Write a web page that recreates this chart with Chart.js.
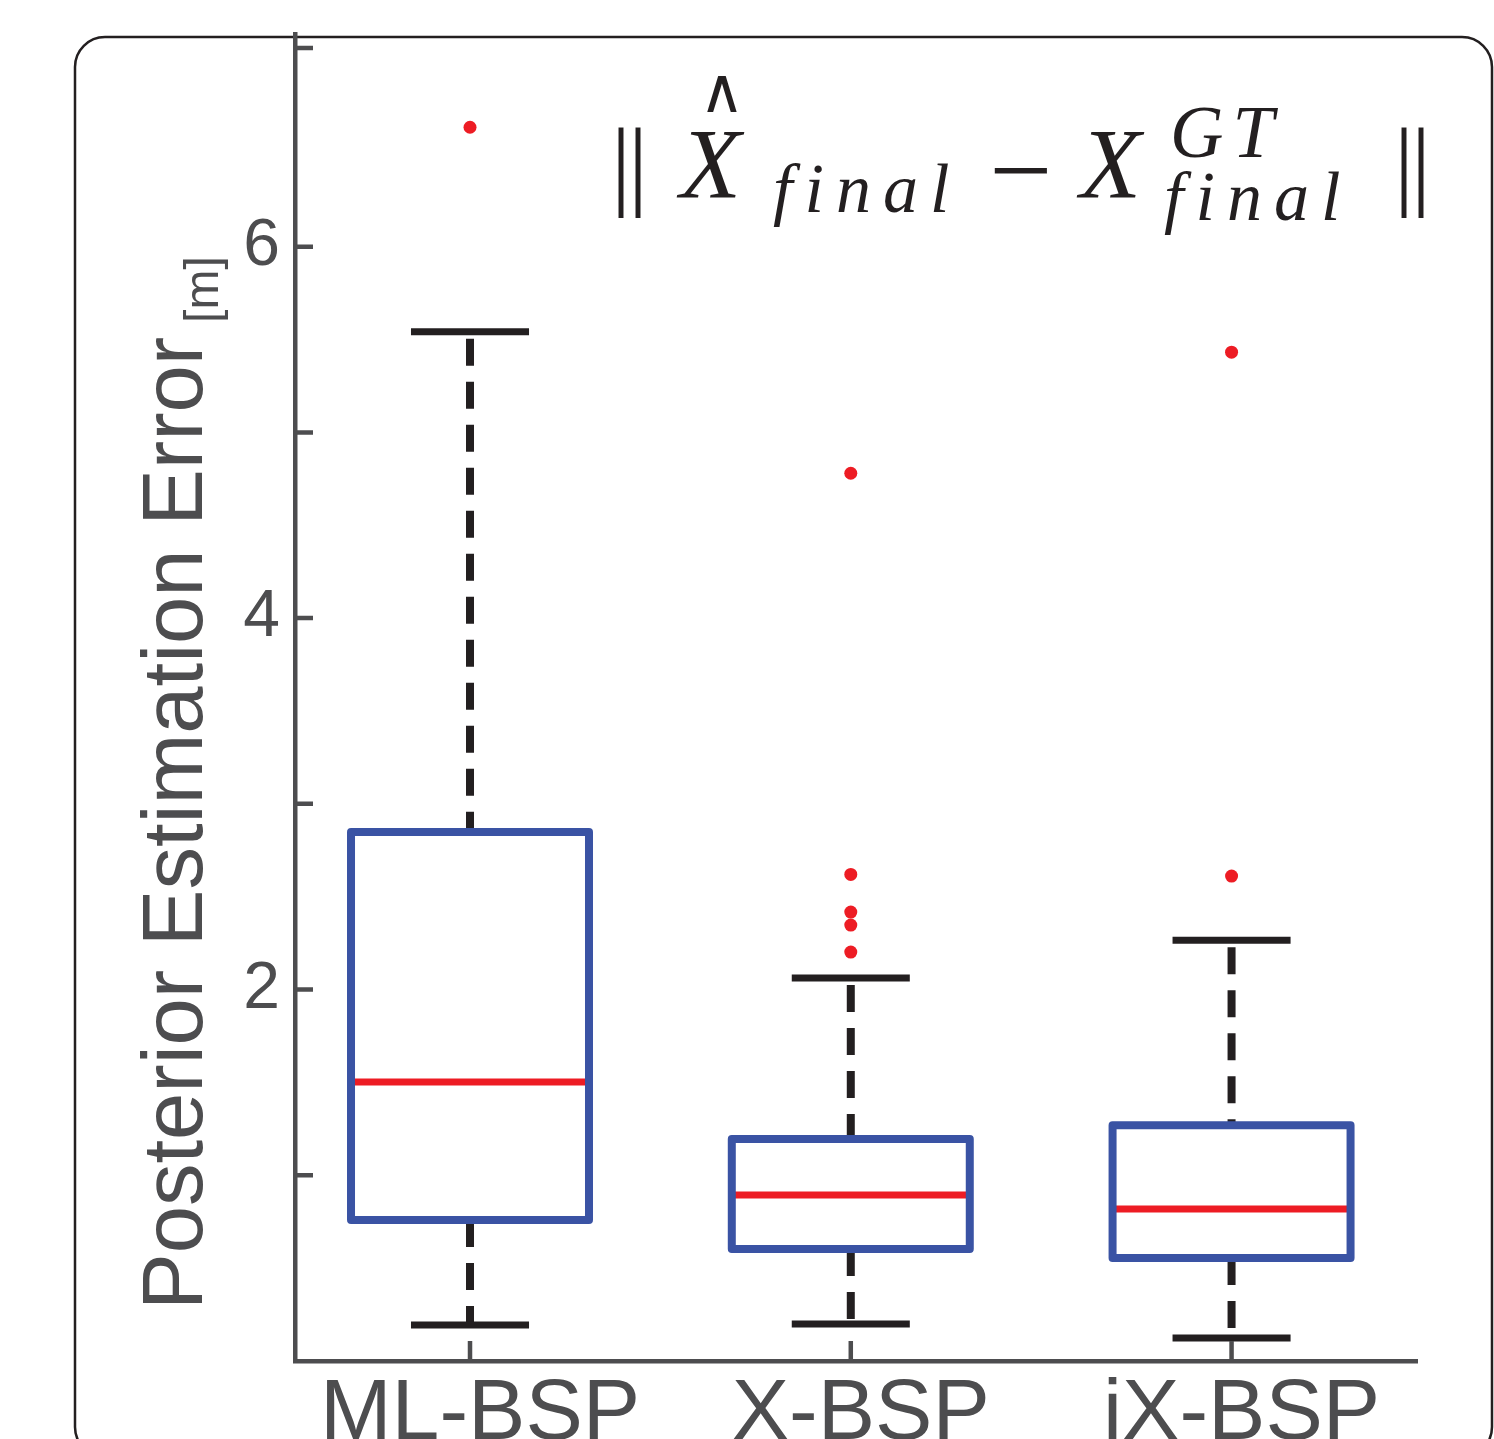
<!DOCTYPE html>
<html>
<head>
<meta charset="utf-8">
<script src="https://cdn.jsdelivr.net/npm/chart.js@4.4.1/dist/chart.umd.min.js"></script>
<style>
    html, body { margin: 0; padding: 0; background: #fff; }
    canvas { display: block; }
</style>
</head>
<body>
<canvas id="canvas" width="1494" height="1439"></canvas>
<script>
// values, in metres
const categories = ["ML-BSP", "X-BSP", "iX-BSP"];
const whiskerLow = [0.194, 0.199, 0.124];
const quartile1 = [0.759, 0.603, 0.555];
const medians = [1.502, 0.894, 0.818];
const quartile3 = [2.848, 1.195, 1.270];
const whiskerHigh = [5.542, 2.062, 2.266];
const outliers = [
    [6.643],
    [4.78, 2.62, 2.417, 2.347, 2.202],
    [5.432, 2.611]
];
const yTicks = [1, 2, 3, 4, 5, 6, 7.07];
const yLabelledTicks = [2, 4, 6];

const BLUE = "#3a53a4";
const RED = "#ed1c24";
const BLACK = "#231f20";
const GRAY = "#4d4d4f";
const SANS = "'Liberation Sans', Arial, Helvetica, sans-serif";
const SERIF = "'Liberation Serif', 'Times New Roman', serif";
const BOX_HALF = 0.3125;
const CAP_HALF = 0.155;

function l(element) {
    return document.getElementById(element);
}

function line(points, color, width, extra) {
    return Object.assign({
        data: points,
        showLine: true,
        borderColor: color,
        borderWidth: width,
        pointRadius: 0,
        fill: false,
        tension: 0,
        borderCapStyle: "butt"
    }, extra);
}

function buildDatasets() {
    let sets = [];
    categories.forEach((name, i) => {
        const x = i + 1;
        const lo = x - BOX_HALF, hi = x + BOX_HALF;
        sets.push(line([{x: x, y: whiskerHigh[i]}, {x: x, y: quartile3[i]}], BLACK, 8,
            {borderDash: [27, 16], borderDashOffset: 36, order: 6}));
        sets.push(line([{x: x, y: quartile1[i]}, {x: x, y: whiskerLow[i]}], BLACK, 8,
            {borderDash: [27, 16], order: 6}));
        sets.push(line([{x: x - CAP_HALF, y: whiskerHigh[i]}, {x: x + CAP_HALF, y: whiskerHigh[i]}], BLACK, 7, {order: 5}));
        sets.push(line([{x: x - CAP_HALF, y: whiskerLow[i]}, {x: x + CAP_HALF, y: whiskerLow[i]}], BLACK, 7, {order: 5}));
        sets.push(line([{x: lo, y: medians[i]}, {x: hi, y: medians[i]}], RED, 7, {order: 4}));
        sets.push(line([
            {x: x, y: quartile1[i]}, {x: hi, y: quartile1[i]}, {x: hi, y: quartile3[i]},
            {x: lo, y: quartile3[i]}, {x: lo, y: quartile1[i]}, {x: x, y: quartile1[i]}
        ], BLUE, 8, {order: 3, borderJoinStyle: "round"}));
        sets.push({
            data: outliers[i].map(v => ({x: x, y: v})),
            showLine: false,
            pointRadius: 6.5,
            pointBorderWidth: 0,
            pointBackgroundColor: RED,
            order: 1
        });
    });
    return sets;
}

function drawSpaced(ctx, text, x, y, spacing) {
    for (let ch of text) {
        ctx.fillText(ch, x, y);
        x += ctx.measureText(ch).width + spacing;
    }
}

// rounded frame round the whole figure
const framePlugin = {
    id: "frame",
    beforeDraw(chart) {
        const ctx = chart.ctx;
        ctx.save();
        ctx.strokeStyle = BLACK;
        ctx.lineWidth = 2.5;
        ctx.beginPath();
        ctx.roundRect(75, 37, 1417, 1420, 30);
        ctx.stroke();
        ctx.restore();
    }
};

// matlab style inward ticks, y label and the formula
const decorPlugin = {
    id: "decor",
    afterDraw(chart) {
        const ctx = chart.ctx;
        const area = chart.chartArea;
        const xs = chart.scales.x, ys = chart.scales.y;
        ctx.save();
        ctx.strokeStyle = GRAY;
        ctx.lineWidth = 4.5;
        ctx.beginPath();
        for (let v of yTicks) {
            const py = ys.getPixelForValue(v);
            ctx.moveTo(area.left, py);
            ctx.lineTo(area.left + 18, py);
        }
        categories.forEach((c, i) => {
            const px = xs.getPixelForValue(i + 1);
            ctx.moveTo(px, area.bottom);
            ctx.lineTo(px, area.bottom - 20);
        });
        ctx.stroke();

        ctx.fillStyle = GRAY;
        ctx.translate(202, 1310);
        ctx.rotate(-Math.PI / 2);
        ctx.textAlign = "left";
        ctx.textBaseline = "alphabetic";
        ctx.font = "85px " + SANS;
        const main = "Posterior Estimation Error";
        const w = ctx.measureText(main).width;
        ctx.fillText(main, 0, 0);
        ctx.font = "48px " + SANS;
        ctx.fillText("[m]", w + 14, 16);
        ctx.restore();

        ctx.save();
        ctx.fillStyle = BLACK;
        ctx.textBaseline = "alphabetic";
        ctx.textAlign = "left";
        ctx.font = "100px " + SERIF;
        drawSpaced(ctx, "||", 611, 197, -3);
        drawSpaced(ctx, "||", 1394, 197, -3);
        ctx.font = "112px " + SERIF;
        ctx.fillText("\u2212", 989, 208);
        ctx.font = "italic 100px " + SERIF;
        ctx.fillText("X", 680, 197);
        ctx.fillText("X", 1080, 197);
        ctx.font = "italic 70px " + SERIF;
        drawSpaced(ctx, "final", 773, 212, 12);
        drawSpaced(ctx, "final", 1164, 220, 12);
        ctx.font = "italic 74px " + SERIF;
        drawSpaced(ctx, "GT", 1170, 157, 9);
        ctx.textAlign = "center";
        ctx.font = "62px 'DejaVu Sans ExtraLight', 'DejaVu Sans', sans-serif";
        ctx.fillText("\u2227", 722, 112);
        ctx.restore();
    }
};

const chart = new Chart(l("canvas"), {
    type: "scatter",
    data: {datasets: buildDatasets()},
    options: {
        responsive: false,
        animation: false,
        events: [],
        layout: {padding: {top: 34, right: 77, left: 0, bottom: 0}},
        plugins: {legend: {display: false}, tooltip: {enabled: false}},
        scales: {
            x: {
                type: "linear",
                min: 0.5404,
                max: 3.487,
                afterFit: s => {
                    s.height = 78;
                    s.paddingLeft = 0;
                    s.paddingRight = 0;
                },
                afterBuildTicks: s => { s.ticks = categories.map((c, i) => ({value: i + 1})); },
                ticks: {
                    callback: v => categories[v - 1],
                    font: {family: SANS, size: 86, lineHeight: 1},
                    color: GRAY,
                    padding: 11,
                    labelOffset: 10,
                    maxRotation: 0,
                    autoSkip: false
                },
                grid: {drawOnChartArea: false, drawTicks: false},
                border: {color: GRAY, width: 4.5}
            },
            y: {
                min: 0,
                max: 7.145,
                afterFit: s => {
                    s.width = 295;
                    s.paddingTop = 0;
                    s.paddingBottom = 0;
                },
                afterBuildTicks: s => { s.ticks = yTicks.map(v => ({value: v})); },
                ticks: {
                    callback: v => yLabelledTicks.includes(v) ? String(v) : "",
                    font: {family: SANS, size: 66},
                    color: GRAY,
                    padding: 15,
                    autoSkip: false
                },
                grid: {drawOnChartArea: false, drawTicks: false},
                border: {color: GRAY, width: 4.5}
            }
        }
    },
    plugins: [framePlugin, decorPlugin]
});
</script>
</body>
</html>
